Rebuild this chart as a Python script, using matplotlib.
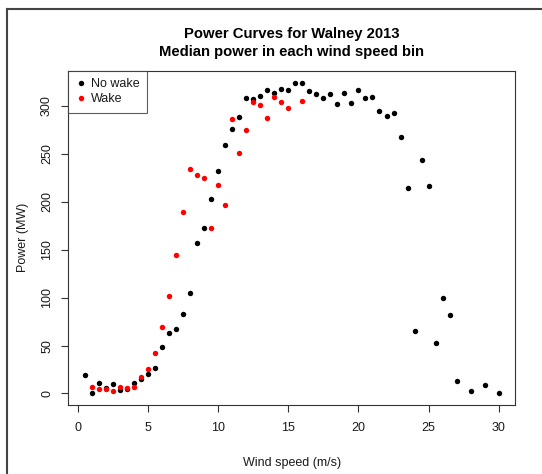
import matplotlib
matplotlib.use("Agg")
import matplotlib.pyplot as plt
from matplotlib.lines import Line2D

plt.rcParams['font.family'] = ['Liberation Sans', 'DejaVu Sans']

# Data (median power per wind speed bin)
ws_nowake = [0.5, 1.0, 1.5, 2.0, 2.5, 3.0, 3.5, 4.0, 4.5, 5.0, 5.5, 6.0, 6.5, 7.0,
             7.5, 8.0, 8.5, 9.0, 9.5, 10.0, 10.5, 11.0, 11.5, 12.0, 12.5, 13.0,
             13.5, 14.0, 14.5, 15.0, 15.5, 16.0, 16.5, 17.0, 17.5, 18.0, 18.5,
             19.0, 19.5, 20.0, 20.5, 21.0, 21.5, 22.0, 22.5, 23.0, 23.5, 24.0,
             24.5, 25.0, 25.5, 26.0, 26.5, 27.0, 28.0, 29.0, 30.0]
power_nowake = [19, 1, 11, 5.5, 9.7, 3.4, 4.5, 11, 15, 20.4, 26.4, 48, 62.8, 67.7,
                82.6, 104.8, 157.3, 173, 203, 232, 259.5, 276, 288.9, 308.6, 306.9,
                310.4, 316.7, 313.5, 317.3, 316.7, 324, 324, 316, 312.5, 308.6,
                312.5, 302, 313.5, 302.7, 316.7, 308.6, 309.5, 295, 289.6, 292.3,
                268, 214.2, 65.2, 243.7, 216, 52.4, 100, 81.6, 13.5, 3.1, 9, 1]

ws_wake = [1.0, 1.5, 2.0, 2.5, 3.0, 3.5, 4.0, 4.5, 5.0, 5.5, 6.0, 6.5, 7.0, 7.5,
           8.0, 8.5, 9.0, 9.5, 10.0, 10.5, 11.0, 11.5, 12.0, 12.5, 13.0, 13.5,
           14.0, 14.5, 15.0, 16.0]
power_wake = [7.3, 4.8, 5.2, 2.4, 7.3, 6.2, 7.3, 16.7, 25.3, 42.7, 69, 101.4,
              144.4, 188.9, 234, 228.4, 225.3, 173, 217.3, 196.8, 286.4, 250.6,
              275.3, 304.5, 301.4, 287.8, 309.7, 303.8, 297.5, 304.8]

xticks = [0, 5, 10, 15, 20, 25, 30]
yticks = [0, 50, 100, 150, 200, 250, 300]

W, H = 542, 474
fig = plt.figure(figsize=(W / 100, H / 100), dpi=100)
ax = fig.add_axes([68.3 / W, (H - 405) / H, (515.3 - 68.3) / W, (405 - 70.5) / H])

spine_col = '#333333'
text_col = '#1a1a1a'

ax.plot(ws_nowake, power_nowake, 'o', color='black', markersize=3.9,
        markeredgewidth=0, label='No wake')
ax.plot(ws_wake, power_wake, 'o', color='#ff0000', markersize=3.9,
        markeredgewidth=0, label='Wake')

ax.set_xlim(-0.68, 31.18)
ax.set_ylim(-12, 337)
ax.set_xticks(xticks)
ax.set_yticks(yticks)
ax.tick_params(axis='both', direction='out', length=5, width=0.8,
               colors=spine_col, labelcolor=text_col, labelsize=9)
ax.tick_params(axis='x', pad=7)
ax.tick_params(axis='y', pad=6)
for lab in ax.get_yticklabels():
    lab.set_rotation(90)
    lab.set_va('center')
for s in ax.spines.values():
    s.set_color(spine_col)
    s.set_linewidth(0.8)

ax.set_xlabel('Wind speed (m/s)', fontsize=9, color=text_col, labelpad=16.5)
ax.set_ylabel('Power (MW)', fontsize=9, color=text_col, labelpad=9)
ax.set_title('Power Curves for Walney 2013\nMedian power in each wind speed bin',
             fontsize=10.7, fontweight='bold', color='black', pad=10.5, linespacing=1.35)

leg = ax.legend(loc='upper left', bbox_to_anchor=(0, 1), borderaxespad=0,
                fancybox=False, frameon=True, edgecolor=spine_col, fontsize=9,
                handlelength=0.8, handletextpad=0.4, borderpad=0.6,
                labelspacing=0.25, numpoints=1, markerscale=1.0)
leg.get_frame().set_linewidth(0.8)
for t in leg.get_texts():
    t.set_color(text_col)

# outer frame (screenshot border)
fig.add_artist(Line2D([7.3 / W, 7.3 / W], [0, 1 - 9.4 / H], transform=fig.transFigure,
                      color='#444444', linewidth=1.5))
fig.add_artist(Line2D([7.3 / W, 1], [1 - 9.4 / H, 1 - 9.4 / H], transform=fig.transFigure,
                      color='#444444', linewidth=1.5))

fig.savefig('out.png', dpi=100)
